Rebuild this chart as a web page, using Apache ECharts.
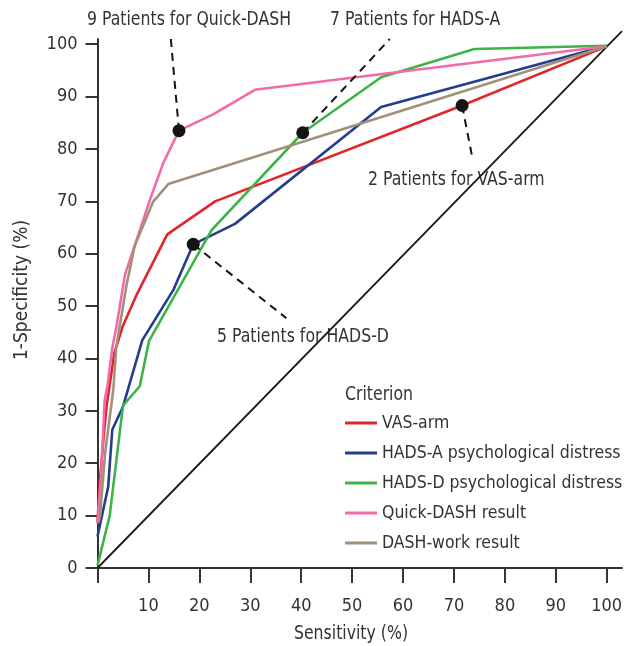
<!DOCTYPE html>
<html>
<head>
<meta charset="utf-8">
<script src="https://cdn.jsdelivr.net/npm/echarts@6/dist/echarts.min.js"></script>
<style>html,body{margin:0;padding:0;background:#fff;}#c{width:626px;height:646px;}</style>
</head>
<body>
<div id="c"></div>
<script>
// ---- data (x = Sensitivity %, y = 1-Specificity %) ----
const seriesNames = ['VAS-arm', 'HADS-A psychological distress', 'HADS-D psychological distress', 'Quick-DASH result', 'DASH-work result'];
const vasArm = [[0,8.8],[0.5,17],[1.2,25],[1.8,31],[2.4,35],[3.3,41],[4.9,46],[7.7,52.2],[13.7,63.7],[23.1,70],[71.6,88.3],[100,99.6]];
const hadsA = [[0,6],[2.1,15.5],[2.9,26.4],[5,30.8],[8.8,43.5],[14.9,53.1],[18.8,61.8],[27,65.7],[55.7,88],[100,99.7]];
const hadsD = [[0,0.5],[2.4,10],[5,31],[8.3,34.7],[10.1,43.3],[22.4,64.5],[40.3,83.1],[55.7,93.7],[74,99.1],[100,99.7]];
const quickDash = [[0,8.5],[0.7,17.5],[1.4,32],[2,35],[2.9,42],[3.7,46],[5.4,56],[10.3,70.3],[12.9,77.3],[16,83.5],[22.7,86.6],[30.9,91.3],[100,99.6]];
const dashWork = [[0.3,9],[0.5,10],[1.5,22],[3.1,34],[3.7,42.3],[5.7,54],[7.3,61.5],[10.9,69.9],[13.9,73.3],[100,99.6]];
const reference = [[0,0],[103,102.5]];
const cutoffPoints = [[16,83.5],[40.3,83.1],[71.6,88.3],[18.8,61.8]];
const leaderEnds = [[14.4,101],[57.4,101],[73.7,77.9],[37.1,47.7]];
const annotationTexts = ['9 Patients for Quick-DASH', '7 Patients for HADS-A', '2 Patients for VAS-arm', '5 Patients for HADS-D'];
const tickValues = [0,10,20,30,40,50,60,70,80,90,100];
const xLabelValues = [10,20,30,40,50,60,70,80,90,100];
const colors = ['#e1262b', '#263d8f', '#3cb449', '#f26ba8', '#a2917a'];

const FONT = "'Liberation Sans Narrow','DejaVu Sans Condensed','Roboto Condensed','Arial Narrow',sans-serif";
const TXT = '#333';
const FS = 19;
const SX = 0.92;

const annPos = [[87,20],[330,20],[368,180],[217,337]];

const chart = echarts.init(document.getElementById('c'), null, {renderer: 'canvas'});
const curves = [vasArm, hadsA, hadsD, quickDash, dashWork];
const series = curves.map((d, i) => ({
  name: seriesNames[i], type: 'line', data: d, symbol: 'none', smooth: false,
  lineStyle: {color: colors[i], width: 2.6}, itemStyle: {color: colors[i]}, z: 3
}));
series.unshift({
  name: 'ref', type: 'line', data: reference, symbol: 'none', clip: false,
  lineStyle: {color: '#1a1a1a', width: 1.8}, z: 2, silent: true
});
series.push({
  name: 'cutoff', type: 'scatter', data: cutoffPoints, symbolSize: 13,
  itemStyle: {color: '#141414', opacity: 1}, z: 6,
  markLine: {
    silent: true, symbol: ['none','none'], label: {show: false},
    lineStyle: {color: '#141414', width: 2, type: [8,6], opacity: 1},
    data: cutoffPoints.map((p, i) => [{coord: p}, {coord: leaderEnds[i]}])
  }
});

function txt(t, x, y, align, extra) {
  return Object.assign({
    type: 'text', x: x, y: y, scaleX: SX,
    style: {text: t, fontSize: FS, fontFamily: FONT, fill: TXT, textVerticalAlign: 'middle', textAlign: align}
  }, extra || {});
}
const graphics = annotationTexts.map((t, i) => txt(t, annPos[i][0], annPos[i][1], 'left'));
graphics.push(txt('Criterion', 345, 395, 'left'));
graphics.push(txt('Sensitivity (%)', 351, 634, 'center'));
graphics.push({type: 'text', x: 22, y: 290, rotation: Math.PI/2,
  style: {text: '1-Specificity (%)', fontSize: FS, fontFamily: FONT, fill: TXT, textVerticalAlign: 'middle', textAlign: 'center'}});

chart.setOption({
  animation: false,
  backgroundColor: '#fff',
  grid: {left: 97.5, right: 4, top: 39, bottom: 78, containLabel: false},
  xAxis: {
    type: 'value', min: 0, max: 103, interval: 10,
    axisLine: {show: true, onZero: false, lineStyle: {color: '#333', width: 2}},
    axisTick: {show: true, length: 15, lineStyle: {color: '#333', width: 2}, customValues: tickValues},
    axisLabel: {customValues: xLabelValues, fontSize: 18, fontFamily: FONT, color: TXT, margin: 29},
    splitLine: {show: false}
  },
  yAxis: {
    type: 'value', min: 0, max: 101, interval: 10,
    axisLine: {show: true, onZero: false, lineStyle: {color: '#333', width: 2}},
    axisTick: {show: true, length: 12, lineStyle: {color: '#333', width: 2}, customValues: tickValues},
    axisLabel: {customValues: tickValues, fontSize: 18, fontFamily: FONT, color: TXT, margin: 20},
    splitLine: {show: false}
  },
  legend: {
    data: seriesNames, orient: 'vertical', left: 340, top: 409,
    icon: 'rect', itemWidth: 32, itemHeight: 3, itemGap: 12,
    textStyle: {fontSize: 17.5, fontFamily: FONT, color: TXT}
  },
  graphic: graphics,
  series: series
});
</script>
</body>
</html>
